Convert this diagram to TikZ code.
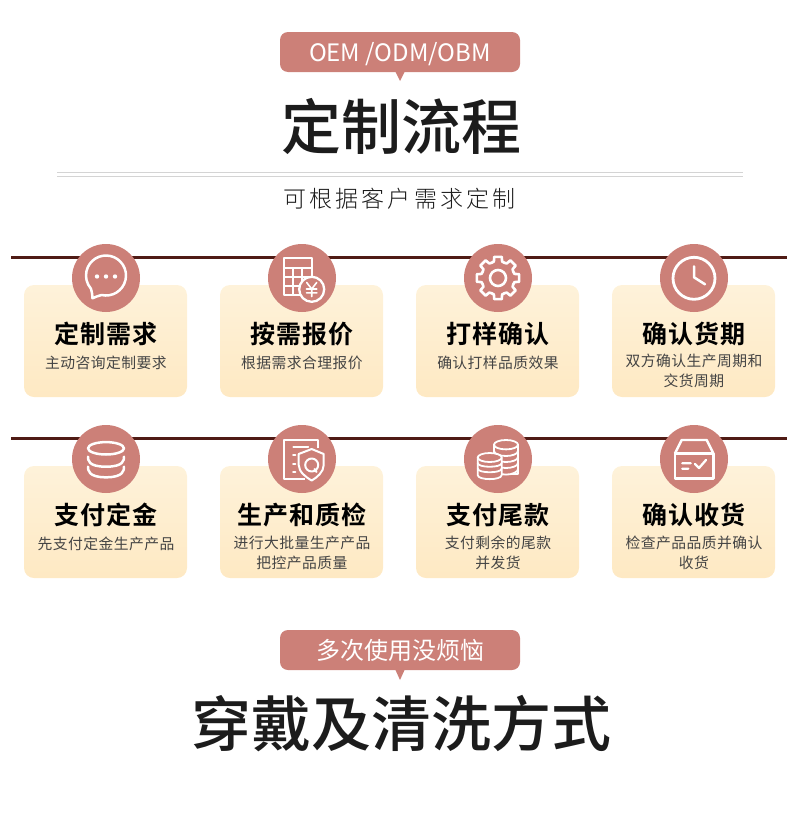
\documentclass[tikz,border=0pt]{standalone}
\usepackage{fontspec}
\setmainfont{Noto Sans CJK SC}
\newfontfamily\bigf{Noto Sans CJK SC Medium}
\newfontfamily\cardf[LetterSpace=4]{Noto Sans CJK SC Bold}
\newfontfamily\subf[LetterSpace=3]{Noto Sans CJK SC}
\newfontfamily\leadf[LetterSpace=14]{Noto Sans CJK SC Light}
\newfontfamily\pillf{Noto Sans CJK SC}
\usetikzlibrary{calc}
\definecolor{rose}{HTML}{CC8078}
\definecolor{ink}{HTML}{1C1C1C}
\definecolor{subink}{HTML}{444444}
\definecolor{rule}{HTML}{4F1B15}
\tikzset{
  pill/.style={fill=rose,draw=none,rounded corners=8pt,minimum width=240pt,minimum height=40pt,inner sep=0pt},
  pilltext/.style={text=white,inner sep=0pt,font=\pillf\fontsize{24}{28}\selectfont},
  bigtitle/.style={text=ink,inner sep=0pt,font=\bigf\fontsize{60}{66}\selectfont},
  lead/.style={text=ink,inner sep=0pt,font=\leadf\fontsize{23}{26}\selectfont},
  card/.style={draw=none,rounded corners=10pt,minimum width=163pt,minimum height=112pt,inner sep=0pt,top color=cardtop,bottom color=cardbot},
  cardtitle/.style={text=black,inner sep=0pt,font=\cardf\fontsize{25}{28}\selectfont},
  cardsub/.style={text=subink,inner sep=0pt,align=center,font=\subf\fontsize{14.8}{20}\selectfont},
  badge/.style={circle,fill=rose,draw=none,minimum size=68pt,inner sep=0pt},
  icon/.style={draw=white,line width=2.3pt,line cap=round,line join=round},
  hair/.style={draw=rulegray,line width=1.5pt},
  darkrule/.style={draw=rule,line width=2.3pt},
}
\definecolor{cardtop}{HTML}{FEF2DA}
\definecolor{cardbot}{HTML}{FEE9C3}
\definecolor{rulegray}{HTML}{D4D4D4}
\begin{document}
\begin{tikzpicture}[x=1pt,y=1pt,yscale=-1]
\useasboundingbox (0,0) rectangle (800,830);
% header
\node[pill] (pilla) at (400,52) {};
\fill[rose] (395,71) -- (405,71) -- (400,81) -- cycle;
\node[pilltext] (pillatext) at (400,54) {OEM /ODM/OBM};
\node[bigtitle] (titlea) at (401,126) {定制流程};
\coordinate (ra1) at (57,172.5); \coordinate (rb1) at (743,172.5);
\coordinate (ra2) at (57,176.5); \coordinate (rb2) at (743,176.5);
\draw[hair] (ra1) -- (rb1);
\draw[hair] (ra2) -- (rb2);
\node[lead] (leada) at (399.5,199) {可根据客户需求定制};
% long rules
\coordinate (la) at (11,257.5); \coordinate (lb) at (787,257.5);
\coordinate (lc) at (11,438.5); \coordinate (ld) at (787,438.5);
\draw[darkrule] (la) -- (lb);
\draw[darkrule] (lc) -- (ld);
% cards
\foreach \n/\x/\y in {a/105.5/341,b/301.5/341,c/497.5/341,d/693.5/341,e/105.5/522,f/301.5/522,g/497.5/522,h/693.5/522}{
  \node[card] (card\n) at (\x,\y) {};
}
\foreach \n/\x/\y in {a/106/278,b/302/278,c/498/278,d/694/278,e/106/459,f/302/459,g/498/459,h/694/459}{
  \node[badge] (badge\n) at (\x,\y) {};
}
% card text
\node[cardtitle] (ta) at (106,334) {定制需求};
\node[cardtitle] (tb) at (302,334) {按需报价};
\node[cardtitle] (tc) at (498,334) {打样确认};
\node[cardtitle] (td) at (694,334) {确认货期};
\node[cardtitle] (te) at (106,515) {支付定金};
\node[cardtitle] (tf) at (302,515) {生产和质检};
\node[cardtitle] (tg) at (498,515) {支付尾款};
\node[cardtitle] (th) at (694,515) {确认收货};
\node[cardsub] (sa) at (106,363) {主动咨询定制要求};
\node[cardsub] (sb) at (302,363) {根据需求合理报价};
\node[cardsub] (sc) at (498,363) {确认打样品质效果};
\node[cardsub] (sd) at (694,371) {双方确认生产周期和\\交货周期};
\node[cardsub] (se) at (106,544) {先支付定金生产产品};
\node[cardsub] (sf) at (302,552.5) {进行大批量生产产品\\把控产品质量};
\node[cardsub] (sg) at (498,552.5) {支付剩余的尾款\\并发货};
\node[cardsub] (sh) at (694,552.5) {检查产品品质并确认\\收货};
% icon a: chat
\begin{scope}[shift={(badgea.center)}]
\draw[icon,line width=2.5pt] (-4.5,17) arc (103:-221:20) .. controls (-14,14.5) and (-13.5,17) .. (-13.5,20.3) .. controls (-11,19) and (-8,18) .. (-4.5,17) -- cycle;
\fill[white] (-9,-1.5) circle (2.2) (0,-1.5) circle (2.2) (9,-1.5) circle (2.2);
\end{scope}
% icon b: calculator + yen
\begin{scope}[shift={(badgeb.center)}]
\draw[icon,line cap=butt] (-17.7,-20.3) rectangle (9.7,17);
\draw[icon,line width=1.8pt,line cap=butt] (-17.7,-9.7) -- (9.7,-9.7) (-17.7,-0.7) -- (9.7,-0.7) (-17.7,8) -- (9.7,8) (-8.7,-9.7) -- (-8.7,17) (-0.3,-9.7) -- (-0.3,17);
\draw[icon,fill=rose] (9.7,11.3) circle (12.5);
\draw[icon,line width=1.6pt] (4.7,4.5) -- (9.7,11) -- (14.7,4.5) (9.7,11) -- (9.7,18.5) (4.5,11) -- (14.9,11) (4.5,14.8) -- (14.9,14.8);
\end{scope}
% icon c: gear
\begin{scope}[shift={(badgec.center)}]
\foreach \a in {0,45,...,315}{
  \draw[icon,line width=2.6pt] (\a-22.5:16.5) -- (\a-14:17) -- (\a-10:21.5) -- (\a+10:21.5) -- (\a+14:17) -- (\a+22.5:16.5);
}
\draw[icon,line width=2.6pt] (0,0) circle (8);
\end{scope}
% icon d: clock
\begin{scope}[shift={(badged.center)}]
\draw[icon,line width=2.8pt] (0,0.3) circle (21);
\draw[icon,line width=2.5pt] (0,-11.7) -- (0,-0.7) -- (11,6.3);
\end{scope}
% icon e: database
\begin{scope}[shift={(badgee.center)}]
\draw[icon,line width=2.5pt] (0,-10.7) ellipse (18 and 6.2);
\draw[icon,line width=2.5pt] (-18,-2.3) .. controls (-18,1) and (-18,7.7) .. (0,7.7) .. controls (18,7.7) and (18,1) .. (18,-2.3);
\draw[icon,line width=2.5pt] (-18,7.7) .. controls (-18,11) and (-18,18.3) .. (0,18.3) .. controls (18,18.3) and (18,11) .. (18,7.7);
\end{scope}
% icon f: document + shield
\begin{scope}[shift={(badgef.center)}]
\draw[icon,line cap=butt] (16.3,-10.7) -- (16.3,-19) -- (-17.7,-19) -- (-17.7,20.3) -- (3,20.3);
\draw[icon,line width=1.8pt] (-8.7,-11.7) -- (6.3,-11.7) (-9,-4) -- (-6.5,-4) (-9,5) -- (-6.5,5) (-9,13.3) -- (-6.5,13.3);
\draw[icon,fill=rose,line width=2pt] (9.7,-10) -- (21.7,-5) -- (21.7,6) .. controls (21.7,13) and (15,18.5) .. (9.7,21.5) .. controls (4.4,18.5) and (-3.3,13) .. (-3.3,6) -- (-3.3,-5) -- cycle;
\draw[icon,line width=2pt] (9.7,6) circle (6.5) (12.5,10) -- (14.5,13);
\end{scope}
% icon g: coins
\begin{scope}[shift={(badgeg.center)}]
\draw[icon,line width=1.8pt] (-4,-14.3) -- (-4,15.3) -- (20,15.3) -- (20,-14.3);
\draw[icon,fill=rose,line width=1.8pt,line cap=butt] (-4,10) .. controls (-4,13) and (2,15.6) .. (8,15.6) .. controls (14,15.6) and (20,13) .. (20,10);
\draw[icon,line width=1.8pt] (-4,-8) .. controls (-4,-5) and (2,-3) .. (8,-3) .. controls (14,-3) and (20,-5) .. (20,-8);
\draw[icon,line width=1.8pt] (-4,-2) .. controls (-4,1) and (2,3) .. (8,3) .. controls (14,3) and (20,1) .. (20,-2);
\draw[icon,line width=1.8pt] (-4,4) .. controls (-4,7) and (2,9) .. (8,9) .. controls (14,9) and (20,7) .. (20,4);
\draw[icon,fill=rose,line width=1.8pt] (8,-14.3) ellipse (12 and 4.7);
\draw[icon,fill=rose,line width=1.8pt] (-20.3,-1.5) -- (-20.3,16) .. controls (-20.3,21.5) and (3.7,21.5) .. (3.7,16) -- (3.7,-1.5) -- cycle;
\draw[icon,fill=rose,line width=1.8pt] (-8.3,-1.5) ellipse (12 and 4.5);
\foreach \yy in {4,9.5}{
  \draw[icon,line width=1.8pt] (-20.3,\yy) .. controls (-20.3,\yy+5) and (3.7,\yy+5) .. (3.7,\yy);
}
\end{scope}
% icon h: box
\begin{scope}[shift={(badgeh.center)}]
\draw[icon,line width=2.4pt] (-19,-5.7) -- (-19,19.3) -- (19.3,19.3) -- (19.3,-5.7) -- cycle;
\draw[icon,line width=2.4pt] (-19,-5.7) -- (-12.3,-19) -- (12.7,-19) -- (19.3,-5.7);
\draw[icon] (-11.7,4.3) -- (-3.3,4.3) (-11.7,9.7) -- (-5.7,9.7) (1,5) -- (5,9) -- (12,1);
\end{scope}
% footer
\node[pill] (pillb) at (400,650) {};
\fill[rose] (395,669) -- (405,669) -- (400,680) -- cycle;
\node[pilltext] (pillbtext) at (400,650) {多次使用没烦恼};
\node[bigtitle] (titleb) at (401,724) {穿戴及清洗方式};
\end{tikzpicture}
\end{document}
